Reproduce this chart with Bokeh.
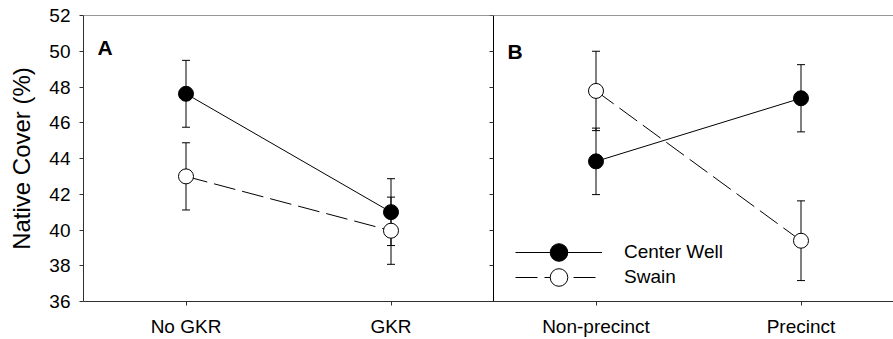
from bokeh.plotting import figure
from bokeh.models import (Range1d, FixedTicker, LinearAxis, Whisker, TeeHead,
                          ColumnDataSource, Legend, LegendItem, Label, Span)
from bokeh.embed import file_html
from bokeh.resources import INLINE

# ---------------- data ----------------
a_categories = ["No GKR", "GKR"]
a_center_well = [47.62, 41.00]
a_center_well_se = [1.87, 1.87]
a_swain = [43.00, 39.96]
a_swain_se = [1.88, 1.88]

b_categories = ["Non-precinct", "Precinct"]
b_center_well = [43.84, 47.37]
b_center_well_se = [1.86, 1.88]
b_swain = [47.78, 39.40]
b_swain_se = [2.22, 2.23]

y_ticks = [36, 38, 40, 42, 44, 46, 48, 50, 52]
series_names = ["Center Well", "Swain"]
panel_letters = ["A", "B"]

# ---------------- layout / style ----------------
FONT = "Liberation Sans"
AXIS_COLOR = "#303030"
W, H = 893, 339
LEFT, TOP, BOTTOM = 83, 15, 38
UNIT = 205.0  # px per category
n_a = len(a_categories)
n_b = len(b_categories)
x_end = -0.5 + (W - LEFT) / UNIT

p = figure(width=W, height=H,
           x_range=Range1d(-0.5, x_end), y_range=Range1d(y_ticks[0], y_ticks[-1]),
           output_backend="svg", toolbar_location=None,
           min_border_left=LEFT, min_border_right=0,
           min_border_top=TOP, min_border_bottom=BOTTOM,
           outline_line_color=None, background_fill_color="white",
           border_fill_color="white")
p.xgrid.grid_line_color = None
p.ygrid.grid_line_color = None


def style_axis(ax, tick_in=0, tick_out=4):
    ax.axis_line_color = AXIS_COLOR
    ax.axis_line_width = 1
    ax.major_tick_line_color = AXIS_COLOR
    ax.major_tick_in = tick_in
    ax.major_tick_out = tick_out
    ax.minor_tick_in = 0
    ax.minor_tick_out = 0
    ax.minor_tick_line_color = None
    ax.major_label_text_font = FONT
    ax.major_label_text_font_size = "19px"
    ax.major_label_text_color = "black"


xa_pos = list(range(n_a))
xb_pos = [n_a + i for i in range(n_b)]
all_cats = a_categories + b_categories

xa = p.xaxis[0]
xa.ticker = FixedTicker(ticks=xa_pos + xb_pos)
xa.major_label_overrides = {i: c for i, c in zip(xa_pos + xb_pos, all_cats)}
style_axis(xa)
xa.major_label_standoff = 10

ya = p.yaxis[0]
ya.ticker = FixedTicker(ticks=y_ticks)
style_axis(ya)
ya.major_label_standoff = 9
ya.axis_label = "Native Cover (%)"
ya.axis_label_text_font = FONT
ya.axis_label_text_font_size = "24px"
ya.axis_label_text_font_style = "normal"
ya.axis_label_text_color = "black"
ya.axis_label_standoff = 11

# divider between the panels, with its ticks pointing left
div_axis = LinearAxis(ticker=FixedTicker(ticks=y_ticks), fixed_location=n_a - 0.5)
style_axis(div_axis, tick_in=0, tick_out=4)
div_axis.axis_line_color = "black"
div_axis.major_label_text_color = None
div_axis.major_label_standoff = 0
p.add_layout(div_axis, "left")

# top border
p.add_layout(Span(location=y_ticks[-1], dimension="width",
                  line_color=AXIS_COLOR, line_width=1))


def draw_panel(xs, cw, cw_se, sw, sw_se):
    src = ColumnDataSource(dict(
        x=xs, cw=cw, sw=sw,
        cw_lo=[m - e for m, e in zip(cw, cw_se)],
        cw_hi=[m + e for m, e in zip(cw, cw_se)],
        sw_lo=[m - e for m, e in zip(sw, sw_se)],
        sw_hi=[m + e for m, e in zip(sw, sw_se)],
    ))
    cw_line = p.line("x", "cw", source=src, line_color="black", line_width=1)
    sw_line = p.line("x", "sw", source=src, line_color="black", line_width=1,
                     line_dash="22 7")
    for lo, hi in (("cw_lo", "cw_hi"), ("sw_lo", "sw_hi")):
        p.add_layout(Whisker(base="x", lower=lo, upper=hi, source=src,
                             line_color="black", line_width=1,
                             upper_head=TeeHead(size=8, line_color="black", line_width=1),
                             lower_head=TeeHead(size=8, line_color="black", line_width=1)))
    sw_pts = p.scatter("x", "sw", source=src, size=15, fill_color="white",
                       line_color="black", line_width=1)
    cw_pts = p.scatter("x", "cw", source=src, size=15, fill_color="black",
                       line_color="black", line_width=1)
    return cw_line, cw_pts, sw_line, sw_pts


draw_panel(xa_pos, a_center_well, a_center_well_se, a_swain, a_swain_se)
cw_line, cw_pts, sw_line, sw_pts = draw_panel(xb_pos, b_center_well, b_center_well_se,
                                              b_swain, b_swain_se)

for letter, sx, yv in ((panel_letters[0], 14, 50.22), (panel_letters[1], 424, 50.0)):
    p.add_layout(Label(x=sx, y=yv, x_units="screen", y_units="data",
                       text=letter, text_font=FONT, text_font_size="21px",
                       text_font_style="bold", text_color="black",
                       text_baseline="alphabetic"))

for name, rends, loc in ((series_names[0], [cw_line, cw_pts], (432, 27)),
                         (series_names[1], [sw_line, sw_pts], (432, 2))):
    leg = Legend(items=[LegendItem(label=name, renderers=rends)],
                 location=loc, glyph_width=87, glyph_height=44,
                 label_height=44, label_standoff=22, padding=0,
                 margin=0, spacing=0, border_line_color=None,
                 background_fill_alpha=0,
                 label_text_font=FONT, label_text_font_size="19px",
                 label_text_color="black")
    p.add_layout(leg)

open("out.html", "w").write(file_html(p, INLINE))
